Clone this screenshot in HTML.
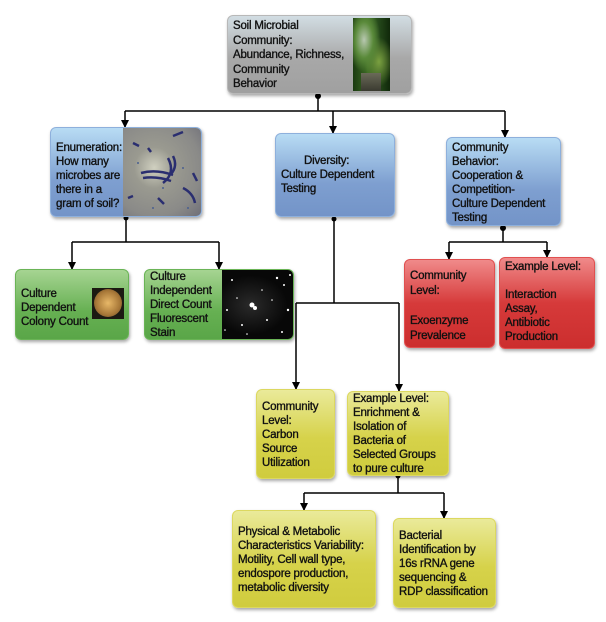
<!DOCTYPE html>
<html><head><meta charset="utf-8"><style>
body{margin:0;width:606px;height:622px;background:#fff;position:relative;overflow:hidden;font-family:"Liberation Sans",sans-serif;}
.b{position:absolute;box-sizing:border-box;border-radius:6px;border:1.5px solid;box-shadow:1px 2px 3px rgba(0,0,0,.35);font-size:11.5px;line-height:14px;color:#111;letter-spacing:-0.2px;padding:4px 5px;overflow:hidden;-webkit-text-stroke:0.35px #111;}
.g{background:linear-gradient(#d2dde3,#a8a8a8 55%,#a0a0a0);border-color:#b8b8b8;}
.bl{background:linear-gradient(#b8dcf4,#7e9fd0 60%,#7394c8);border-color:#8eb0dc;}
.gr{background:linear-gradient(#a6d492,#66b052 60%,#5aa648);border-color:#6ab456;}
.r{background:linear-gradient(#f08a8a,#d63a3a 50%,#cc2e2e);border-color:#e05050;}
.y{background:linear-gradient(#eaea9a,#d6d24a 55%,#d0cc3e);border-color:#dcd860;}
.im{position:absolute;-webkit-text-stroke:0;}
svg{position:absolute;left:0;top:0;}
</style></head><body>
<svg width="606" height="622">
<g stroke="#000" stroke-width="1.5" fill="none">
<path d="M318 96V111M125 111H505M125 111V127M333 111V133M505 111V137"/>
<path d="M126 218V242M72 242H219M72 242V269M219 242V269"/>
<path d="M334 219V303M296 303H399M296 303V389M399 303V391"/>
<path d="M503 228V242M449 242H547M449 242V259M547 242V257"/>
<path d="M398 476V493M304 493H444M304 493V510M444 493V518"/>
</g>
<g fill="#000">
<circle cx="318" cy="96" r="3"/><circle cx="126" cy="218" r="2.5"/><circle cx="334" cy="219" r="2.5"/><circle cx="503" cy="228" r="3"/><circle cx="398" cy="476" r="2.5"/>
<path d="M121 120h8l-4 8z"/><path d="M329 126h8l-4 8z"/><path d="M501 130h8l-4 8z"/>
<path d="M68 262h8l-4 8z"/><path d="M215 262h8l-4 8z"/>
<path d="M292 382h8l-4 8z"/><path d="M395 384h8l-4 8z"/>
<path d="M445 252h8l-4 8z"/><path d="M543 250h8l-4 8z"/>
<path d="M300 503h8l-4 8z"/><path d="M440 511h8l-4 8z"/>
</g>
</svg>

<div class="b g" style="left:227px;top:15px;width:185px;height:79px;padding:3px 5px;line-height:14.5px;">Soil Microbial<br>Community:<br>Abundance, Richness,<br>Community<br>Behavior
<div class="im" style="left:125px;top:2px;width:37px;height:73px;background:radial-gradient(ellipse at 30% 30%,#b8c8b0 0,#5a8a3a 25%,transparent 45%),radial-gradient(ellipse at 70% 60%,#7aa040 0,transparent 40%),linear-gradient(90deg,#1a3a10,#3c6a24 40%,#24481a 70%,#10280a),#2a4a1a;"><div style="position:absolute;left:8px;top:55px;width:20px;height:18px;background:linear-gradient(#6a6a58,#3a3a30);"></div></div></div>

<div class="b bl" style="left:50px;top:127px;width:152px;height:90px;padding:13px 5px;">Enumeration:<br>How many<br>microbes are<br>there in a<br>gram of soil?
<div class="im" style="left:72px;top:0;width:78px;height:88px;background:radial-gradient(ellipse at 40% 45%,#d0d0c0 0,#9a9a90 30%,#8a8a88 70%,#6e6e78);"><svg width="78" height="88"><g stroke="#2a2e70" stroke-width="2.5" fill="none"><path d="M18 45q15-4 32 2"/><path d="M20 50q14-2 28 3"/><path d="M45 30q8 15-5 25"/><path d="M50 28q5 10-2 18"/><path d="M60 60q10 5 12 15"/><path d="M10 15l6 3"/><path d="M50 8l10-4"/><path d="M35 70l6 6"/><path d="M70 45l4 8"/><path d="M5 70l5-2"/><path d="M25 20l3 4"/></g><g fill="#4a6090"><circle cx="15" cy="35" r="1"/><circle cx="60" cy="40" r="1"/><circle cx="30" cy="80" r="1"/><circle cx="65" cy="80" r="1"/><circle cx="40" cy="60" r="1"/></g></svg></div></div>

<div class="b bl" style="left:275px;top:133px;width:120px;height:84px;padding:20px 5px;"><span style="padding-left:23px">Diversity:</span><br>Culture Dependent<br>Testing</div>

<div class="b bl" style="left:446px;top:137px;width:115px;height:89px;padding:3px 5px;">Community<br>Behavior:<br>Cooperation &amp;<br>Competition-<br>Culture Dependent<br>Testing</div>

<div class="b gr" style="left:15px;top:269px;width:114px;height:71px;padding:17px 5px;">Culture<br>Dependent<br>Colony Count
<div class="im" style="left:76px;top:18px;width:32px;height:31px;background:#1c1a12;"><div style="position:absolute;left:2px;top:1px;width:28px;height:28px;border-radius:50%;background:radial-gradient(#e8b868,#a87838 60%,#5a4020);"></div></div></div>

<div class="b gr" style="left:144px;top:269px;width:150px;height:71px;padding:0 5px;">Culture<br>Independent<br>Direct Count<br>Fluorescent<br>Stain
<div class="im" style="left:77px;top:0;width:72px;height:70px;background:radial-gradient(ellipse at 40% 50%,#2a2a2a,#080808 60%);"><svg width="72" height="70" fill="#fff"><circle cx="30" cy="35" r="2.5"/><circle cx="33" cy="38" r="2"/><circle cx="10" cy="10" r="1"/><circle cx="55" cy="8" r="1.2"/><circle cx="62" cy="15" r="1"/><circle cx="20" cy="55" r="1"/><circle cx="45" cy="50" r="1"/><circle cx="66" cy="40" r="1.2"/><circle cx="5" cy="40" r="1"/><circle cx="40" cy="20" r="0.8"/><circle cx="60" cy="62" r="1"/><circle cx="15" cy="28" r="0.8"/><circle cx="50" cy="30" r="0.8"/><circle cx="25" cy="64" r="0.8"/><circle cx="68" cy="5" r="1"/><circle cx="3" cy="60" r="0.8"/></svg></div></div>

<div class="b r" style="left:404px;top:259px;width:91px;height:89px;padding:9px 5px;line-height:15px;">Community<br>Level:<br><br>Exoenzyme<br>Prevalence</div>
<div class="b r" style="left:499px;top:257px;width:96px;height:92px;padding:2px 5px;">Example Level:<br><br>Interaction<br>Assay,<br>Antibiotic<br>Production</div>

<div class="b y" style="left:256px;top:389px;width:79px;height:90px;padding:10px 5px;">Community<br>Level:<br>Carbon<br>Source<br>Utilization</div>
<div class="b y" style="left:347px;top:391px;width:102px;height:85px;padding:0 5px;">Example Level:<br>Enrichment &amp;<br>Isolation of<br>Bacteria of<br>Selected Groups<br>to pure culture</div>

<div class="b y" style="left:232px;top:510px;width:144px;height:98px;padding:14px 5px;">Physical &amp; Metabolic<br>Characteristics Variability:<br>Motility, Cell wall type,<br>endospore production,<br>metabolic diversity</div>
<div class="b y" style="left:393px;top:518px;width:103px;height:90px;padding:10px 5px;">Bacterial<br>Identification by<br>16s rRNA gene<br>sequencing &amp;<br>RDP classification</div>
</body></html>
